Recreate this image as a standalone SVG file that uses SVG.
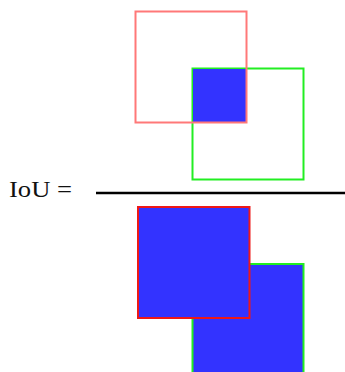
<svg xmlns="http://www.w3.org/2000/svg" width="345" height="372" viewBox="0 0 345 372">
<style>
.red{fill:none;stroke:#ff7878;stroke-width:2}
.grn{fill:none;stroke:#22ee22;stroke-width:2}
.blue{fill:#3333ff}
.redB{fill:#3333ff;stroke:#ee1818;stroke-width:2}
.grnB{fill:#3333ff;stroke:#22ee22;stroke-width:2}
.lbl{font-family:"Liberation Serif","Times New Roman",serif;font-size:24px;fill:#111}
</style>
<rect width="345" height="372" fill="#fff"/>
<g id="intersection">
<rect class="grn" x="192.5" y="68.5" width="111" height="111"/>
<rect class="blue" x="193" y="69" width="53.5" height="53.5"/>
<rect class="red" x="135.5" y="11.5" width="111" height="111"/>
</g>
<g id="fraction">
<line x1="96" y1="193" x2="345" y2="193" stroke="#000" stroke-width="2.5"/>
<text class="lbl" x="9" y="197" textLength="63" lengthAdjust="spacingAndGlyphs">IoU =</text>
</g>
<g id="union">
<rect class="grnB" x="192.5" y="264" width="111" height="111"/>
<rect class="redB" x="138" y="207" width="111.5" height="111"/>
</g>
</svg>
